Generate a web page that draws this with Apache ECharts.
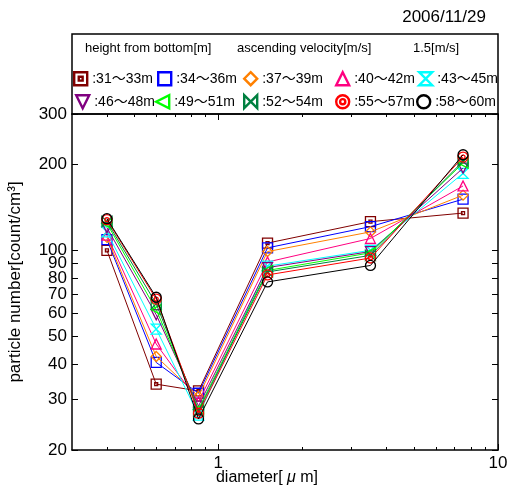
<!DOCTYPE html>
<html>
<head>
<meta charset="utf-8">
<script src="https://cdn.jsdelivr.net/npm/echarts@6/dist/echarts.min.js"></script>
<style>html,body{margin:0;padding:0;background:#fff}#c{width:510px;height:488px}</style>
</head>
<body>
<div id="c"></div>
<script>
// ---- data ----
const diameters = [0.4, 0.6, 0.85, 1.5, 3.5, 7.5];
const names = [':31～33m', ':34～36m', ':37～39m', ':40～42m', ':43～45m',
               ':46～48m', ':49～51m', ':52～54m', ':55～57m', ':58～60m'];
const h31 = [100, 34, 32.2, 106, 126, 135];
const h34 = [109, 40.5, 31.6, 102, 121, 151];
const h37 = [111, 42.5, 30.8, 99, 116, 156];
const h40 = [113, 47, 29.5, 91, 110, 168];
const h43 = [116, 53, 26.5, 88, 100, 186];
const h46 = [120, 59.5, 28.5, 87, 99, 194];
const h49 = [124, 62, 27.8, 85, 98, 202];
const h52 = [126, 65, 27.4, 84, 96, 205];
const h55 = [128, 67.5, 26.9, 82, 94, 212];
const h58 = [129, 68.5, 25.7, 77.5, 88.5, 216];
const yTicks = [20, 30, 40, 50, 60, 70, 80, 90, 100, 200, 300];
const xLabels = [1, 10];
const xMinor = [0.4, 0.5, 0.6, 0.7, 0.8, 0.9, 2, 3, 4, 5, 6, 7, 8, 9];

// ---- styling ----
const seriesValues = [h31, h34, h37, h40, h43, h46, h49, h52, h55, h58];
const colors = ['#800000', '#0000ff', '#ff8000', '#ff0080', '#00ffff',
                '#800080', '#00ff00', '#008040', '#ff0000', '#000000'];
const symbols = [
  'path://M0,0H10V10H0Z M3.5,3.5H6.5V6.5H3.5Z',
  'rect',
  'diamond',
  'triangle',
  'path://M0,0H10L0,10H10Z',
  'path://M0,0H10L5,10Z',
  'path://M10,0V10L0,5Z',
  'path://M0,0V10L10,0V10Z',
  'path://M0,5A5,5 0 1,1 10,5A5,5 0 1,1 0,5Z M3,5A2,2 0 1,1 7,5A2,2 0 1,1 3,5Z',
  'circle'
];
const legendPos = [[73,71],[157,71],[243,71],[335,71],[418,71],
                   [75,94],[155,94],[243,94],[335,94],[416,94]];
const FONT = "'Liberation Sans', Arial, 'Noto Sans CJK JP', sans-serif";

const series = seriesValues.map((vals, k) => ({
  type: 'line',
  name: names[k],
  data: diameters.map((d, i) => [d, vals[i]]),
  symbol: symbols[k],
  symbolSize: 10,
  lineStyle: { color: colors[k], width: 1 },
  itemStyle: { color: 'rgba(255,255,255,0)', borderColor: colors[k], borderWidth: 1.3 },
  emphasis: { disabled: true },
  z: 2 + k
}));

const legends = names.map((n, k) => ({
  left: legendPos[k][0], top: legendPos[k][1],
  padding: 0, itemWidth: 13, itemHeight: 13, selectedMode: false,
  textStyle: { fontSize: 14, fontFamily: FONT, color: '#000' },
  data: [{ name: n, icon: symbols[k],
           itemStyle: { color: 'rgba(255,255,255,0)', borderColor: colors[k], borderWidth: 2.4 } }]
}));

function logX(pos, extra) {
  return Object.assign({
    type: 'log', logBase: 10, min: 0.3, max: 10, position: pos, gridIndex: 0,
    splitLine: { show: false }, axisLabel: { show: false },
    axisLine: { show: false }
  }, extra);
}
function logY(pos, extra) {
  return Object.assign({
    type: 'log', logBase: 10, min: 20, max: 300, position: pos, gridIndex: 0,
    splitLine: { show: false }, axisLabel: { show: false },
    axisLine: { show: true, lineStyle: { color: '#000', width: 1.5 } }
  }, extra);
}

const option = {
  animation: false,
  backgroundColor: '#fff',
  textStyle: { fontFamily: FONT },
  title: [
    { text: '2006/11/29', right: 24, top: 9, padding: 0,
      textStyle: { fontSize: 17, fontWeight: 'normal', color: '#000', fontFamily: FONT } },
    { text: 'height from bottom[m]', left: 85, top: 42, padding: 0,
      textStyle: { fontSize: 13, fontWeight: 'normal', color: '#000', fontFamily: FONT } },
    { text: 'ascending velocity[m/s]', left: 237, top: 42, padding: 0,
      textStyle: { fontSize: 13, fontWeight: 'normal', color: '#000', fontFamily: FONT } },
    { text: '1.5[m/s]', left: 413, top: 42, padding: 0,
      textStyle: { fontSize: 13, fontWeight: 'normal', color: '#000', fontFamily: FONT } }
  ],
  graphic: [{
    type: 'rect', shape: { x: 72, y: 34, width: 426, height: 80 },
    style: { fill: 'none', stroke: '#000', lineWidth: 1.5 }, silent: true
  }],
  legend: legends,
  grid: { left: 72, right: 12, top: 114, bottom: 38, containLabel: false, outerBoundsMode: 'none' },
  xAxis: [
    logX('bottom', {
      axisLine: { show: true, lineStyle: { color: '#000', width: 1.5 } },
      axisTick: { show: true, inside: true, length: 6, customValues: xLabels, lineStyle: { color: '#000' } },
      axisLabel: { show: true, customValues: xLabels, fontSize: 17, color: '#000', margin: 5, fontFamily: FONT },
      name: 'diameter[ {mu|μ} m]', nameLocation: 'middle', nameGap: 20, nameMoveOverlap: false,
      nameTextStyle: { fontSize: 16, color: '#000', fontFamily: FONT, padding: [0, 36, 0, 0],
        rich: { mu: { fontSize: 16, fontStyle: 'italic', color: '#000', fontFamily: FONT } } }
    }),
    logX('bottom', { axisTick: { show: true, inside: true, length: 3, customValues: xMinor, lineStyle: { color: '#000' } } }),
    logX('top', {
      axisLine: { show: true, lineStyle: { color: '#000', width: 1.5 } },
      axisTick: { show: true, inside: true, length: 6, customValues: xLabels, lineStyle: { color: '#000' } }
    }),
    logX('top', { axisTick: { show: true, inside: true, length: 3, customValues: xMinor, lineStyle: { color: '#000' } } })
  ],
  yAxis: [
    logY('left', {
      axisTick: { show: true, inside: true, length: 6, customValues: yTicks, lineStyle: { color: '#000' } },
      axisLabel: { show: true, customValues: yTicks, fontSize: 17, color: '#000', margin: 5, fontFamily: FONT },
      name: 'particle number[count/cm³]', nameLocation: 'middle', nameGap: 48, nameMoveOverlap: false,
      nameTextStyle: { fontSize: 17, color: '#000', fontFamily: FONT }
    }),
    logY('right', {
      axisTick: { show: true, inside: true, length: 6, customValues: yTicks, lineStyle: { color: '#000' } }
    })
  ],
  series: series
};

const chart = echarts.init(document.getElementById('c'), null, { renderer: 'canvas' });
chart.setOption(option);
</script>
</body>
</html>
